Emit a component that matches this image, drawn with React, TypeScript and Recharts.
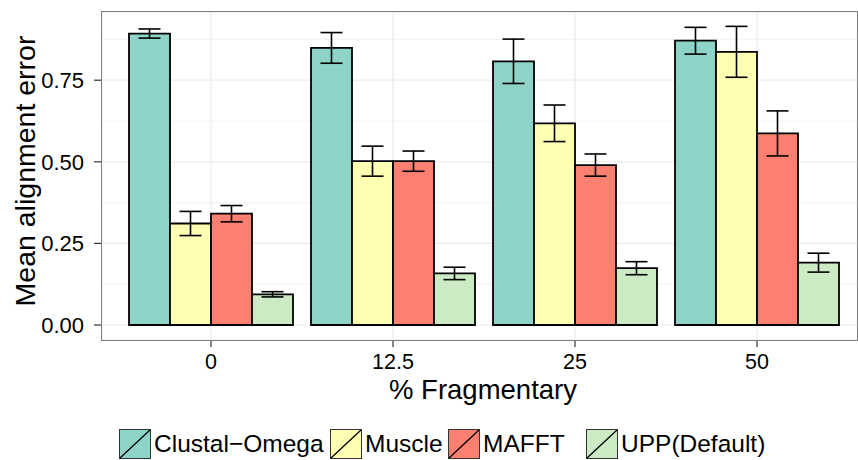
import React from "react";
import { BarChart, Bar, XAxis, YAxis, CartesianGrid, ErrorBar } from "recharts";

const categories = ["0", "12.5", "25", "50"];

const clustal = [0.893, 0.849, 0.808, 0.871];
const clustalErr = [0.014, 0.047, 0.068, 0.041];
const muscle = [0.311, 0.502, 0.618, 0.837];
const muscleErr = [0.037, 0.046, 0.056, 0.078];
const mafft = [0.341, 0.502, 0.49, 0.587];
const mafftErr = [0.025, 0.031, 0.034, 0.069];
const upp = [0.094, 0.158, 0.174, 0.191];
const uppErr = [0.008, 0.019, 0.02, 0.029];

const yTicks = [0, 0.25, 0.5, 0.75];
const yMinorTicks = [0.125, 0.375, 0.625, 0.875];

const series = [
  { key: "clustal", name: "Clustal\u2212Omega", color: "#8DD3C7" },
  { key: "muscle", name: "Muscle", color: "#FFFFB3" },
  { key: "mafft", name: "MAFFT", color: "#FB8072" },
  { key: "upp", name: "UPP(Default)", color: "#CCEBC5" },
];

const data = categories.map((c, i) => ({
  frag: c,
  clustal: clustal[i], clustalErr: clustalErr[i],
  muscle: muscle[i], muscleErr: muscleErr[i],
  mafft: mafft[i], mafftErr: mafftErr[i],
  upp: upp[i], uppErr: uppErr[i],
}));

const FONT = "'Liberation Sans', Arial, Helvetica, sans-serif";
const legendWidths = [211, 118, 138, 200];

function LegendKey({ color }: { color: string }) {
  return (
    <svg width={32} height={30} style={{ display: "block" }}>
      <rect x={0.5} y={0.5} width={31} height={29} fill={color} stroke="#333" strokeWidth={1} />
      <line x1={1} y1={29} x2={31} y2={1} stroke="#000" strokeWidth={1.3} />
    </svg>
  );
}

export default function App() {
  return (
    <div style={{ position: "absolute", left: 0, top: 0, width: 858, height: 460, background: "#fff", fontFamily: FONT }}>
      <BarChart
        width={858} height={460} data={data}
        margin={{ top: 12, right: 0, bottom: 0, left: 0 }}
        barCategoryGap={9} barGap={0}
      >
        <CartesianGrid horizontalValues={yMinorTicks} vertical={false} stroke="#f4f4f4" strokeWidth={1.2} />
        <CartesianGrid stroke="#ebebeb" strokeWidth={1.2} />
        <XAxis
          dataKey="frag" height={120} padding={{ left: 18, right: 10 }}
          axisLine={false} tickSize={7} tickMargin={7}
          tickLine={{ stroke: "#333", strokeWidth: 1.2 }}
          tick={{ fill: "#000", fontSize: 21.5, fontFamily: FONT }}
        />
        <YAxis
          type="number" domain={[-0.046, 0.959]} ticks={yTicks} allowDataOverflow
          width={102} axisLine={false} tickSize={8} tickMargin={10}
          tickLine={{ stroke: "#333", strokeWidth: 1.2 }}
          tick={{ fill: "#000", fontSize: 22, fontFamily: FONT }}
          tickFormatter={(v: number) => v.toFixed(2)}
        />
        {series.map(s => (
          <Bar key={s.key} dataKey={s.key} name={s.name} fill={s.color}
            stroke="#000" strokeWidth={1.8} isAnimationActive={false}>
            <ErrorBar dataKey={s.key + "Err"} width={11} stroke="#000" strokeWidth={1.6} direction="y" />
          </Bar>
        ))}
      </BarChart>

      {/* panel border */}
      <div style={{ position: "absolute", left: 101, top: 11, width: 755, height: 328, border: "1px solid #7f7f7f", pointerEvents: "none" }} />

      <div style={{ position: "absolute", left: 25, top: 171, transform: "translate(-50%, -50%) rotate(-90deg)", fontSize: 28.5, lineHeight: "28px", whiteSpace: "nowrap", color: "#000" }}>
        Mean alignment error
      </div>
      <div style={{ position: "absolute", left: 483, top: 380, transform: "translateX(-50%)", fontSize: 27.5, lineHeight: "20px", whiteSpace: "nowrap", color: "#000" }}>
        % Fragmentary
      </div>

      <div style={{ position: "absolute", left: 119, top: 429, display: "flex", alignItems: "center" }}>
        {series.map((s, i) => (
          <div key={s.key} style={{ display: "flex", alignItems: "center", width: legendWidths[i] }}>
            <LegendKey color={s.color} />
            <span style={{ fontSize: 24.5, lineHeight: "30px", marginLeft: 3, whiteSpace: "nowrap", color: "#000" }}>{s.name}</span>
          </div>
        ))}
      </div>
    </div>
  );
}
